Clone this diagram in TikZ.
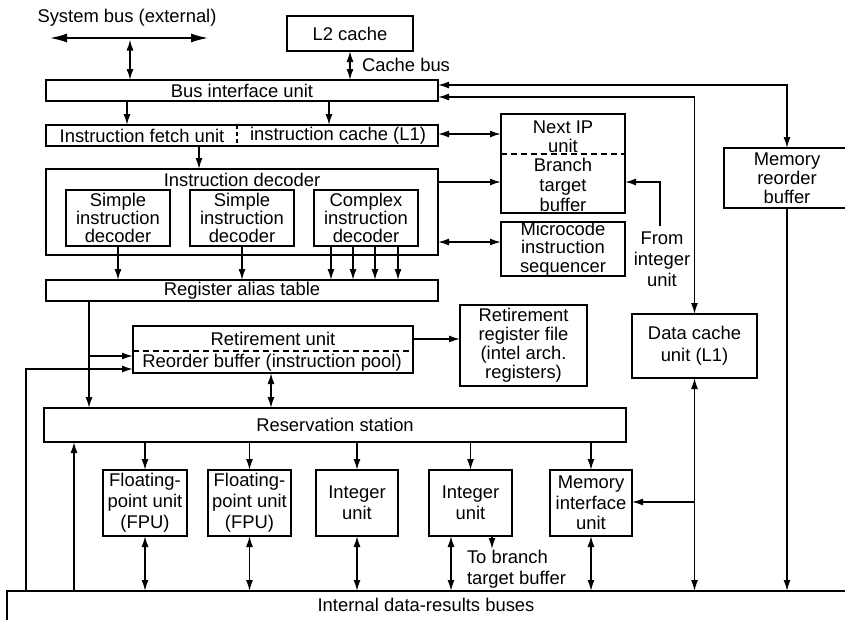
\documentclass[tikz,border=0pt]{standalone}
\usepackage{fontspec}
\setmainfont{Liberation Sans}
\usetikzlibrary{arrows.meta}
\begin{document}
\begin{tikzpicture}[x=1pt,y=-1pt,
  line width=1.5pt,
  every node/.style={font=\fontsize{18.4}{19.5}\selectfont, inner sep=0pt, outer sep=0pt},
  box/.style={draw, line width=1.5pt, align=center},
  lbl/.style={align=center},
  tip/.style={-{Latex[length=11pt,width=7pt]}},
  tips/.style={{Latex[length=11pt,width=7pt]}-{Latex[length=11pt,width=7pt]}},
  bigtips/.style={{Latex[length=17pt,width=9pt]}-{Latex[length=17pt,width=9pt]}},
  dsh/.style={dash pattern=on 6pt off 4pt, line width=1.2pt}
]
\useasboundingbox (0,0) rectangle (845,619);
\clip (0,0) rectangle (845,619);

% ---------- boxes ----------
\node[box, minimum width=126pt, minimum height=35pt] (l2) at (350,33.5) {L2 cache};
\node[box, minimum width=392pt, minimum height=21pt] (biu) at (242,90.5) {Bus interface unit};
\node[box, minimum width=392pt, minimum height=21pt] (ifu) at (242,135.5) {};
\node (ifut) at (142,135.5) {Instruction fetch unit};
\node (icl1) at (338,135.5) {instruction cache (L1)};
\draw[dsh, dash pattern=on 4pt off 3pt] (237,0 |- ifu.north) -- (237,0 |- ifu.south);

\node[box, minimum width=392pt, minimum height=86pt] (dec) at (242,212) {};
\node (dect) at (242,180) {Instruction decoder};
\node[box, minimum width=104pt, minimum height=56pt, font=\fontsize{18.4}{18.3}\selectfont] (sd1) at (118,218) {Simple\\instruction\\decoder};
\node[box, minimum width=104pt, minimum height=56pt, font=\fontsize{18.4}{18.3}\selectfont] (sd2) at (242,218) {Simple\\instruction\\decoder};
\node[box, minimum width=104pt, minimum height=56pt, font=\fontsize{18.4}{18.3}\selectfont] (cd) at (366,218) {Complex\\instruction\\decoder};

\node[box, minimum width=392pt, minimum height=21pt] (rat) at (242,290.5) {Register alias table};

\node[box, minimum width=124pt, minimum height=99pt] (nip) at (563,163.5) {};
\draw[dsh] (nip.west |- 0,154) -- (nip.east |- 0,154);
\node[lbl, font=\fontsize{18.4}{19}\selectfont] (nipt) at (563,136.5) {Next IP\\unit};
\node[lbl, font=\fontsize{18.4}{20}\selectfont] (btbt) at (563,185) {Branch\\target\\buffer};

\node[box, minimum width=124pt, minimum height=54pt, font=\fontsize{18.4}{18.5}\selectfont] (mis) at (563,249) {Microcode\\instruction\\sequencer};

\node[box, minimum width=126pt, minimum height=60pt, font=\fontsize{18.4}{19}\selectfont] (mrb) at (787,178) {Memory\\reorder\\buffer};

\node[box, minimum width=125pt, minimum height=64pt, font=\fontsize{18.4}{22}\selectfont] (dcu) at (694.5,346) {Data cache\\unit (L1)};

\node[box, minimum width=280pt, minimum height=47pt] (ret) at (273,349.5) {};
\draw[dsh] (ret.west |- 0,351) -- (ret.east |- 0,351);
\node (rett) at (273,338.5) {Retirement unit};
\node (robt) at (272,362.5) {Reorder buffer (instruction pool)};

\node[box, minimum width=127pt, minimum height=81pt, font=\fontsize{18.4}{19}\selectfont] (rrf) at (523.5,345.5) {Retirement\\register file\\(intel arch.\\registers)};

\node[box, minimum width=582pt, minimum height=34pt] (rs) at (335,425) {Reservation station};

\node[box, minimum width=84pt, minimum height=66pt, font=\fontsize{18.4}{21}\selectfont] (fpu1) at (145,503) {Floating-\\point unit\\(FPU)};
\node[box, minimum width=83pt, minimum height=66pt, font=\fontsize{18.4}{21}\selectfont] (fpu2) at (249.5,503) {Floating-\\point unit\\(FPU)};
\node[box, minimum width=82pt, minimum height=66pt, font=\fontsize{18.4}{21}\selectfont] (int1) at (357,503) {Integer\\unit};
\node[box, minimum width=83pt, minimum height=66pt, font=\fontsize{18.4}{21}\selectfont] (int2) at (470.5,503) {Integer\\unit};
\node[box, minimum width=82pt, minimum height=66pt, font=\fontsize{18.4}{20.5}\selectfont] (miu) at (591,503) {Memory\\interface\\unit};

\node[draw, line width=1.5pt, minimum width=860pt, minimum height=60pt, anchor=north west] (bus) at (7,591) {};
\node (bust) at (426,605) {Internal data-results buses};

% ---------- labels ----------
\node (sbt) at (127,18) {System bus (external)};
\node[anchor=west] (cbt) at (362,65) {Cache bus};
\node[lbl, font=\fontsize{18.4}{21}\selectfont] (fiut) at (662,259) {From\\integer\\unit};
\node[anchor=west, align=left, font=\fontsize{18.4}{21}\selectfont] (tbt) at (467,569) {To branch\\target buffer};

% ---------- connectors ----------
\coordinate (sbl) at (50,38);
\coordinate (sbr) at (208,38);
\coordinate (sbj) at (130,39.5);
\draw[bigtips] (sbl) -- (sbr);
\draw[tips] (sbj) -- (sbj |- biu.north);
\draw[tips] (l2.south) -- (l2.south |- biu.north);

\draw[tip] (127,0 |- biu.south) -- (127,0 |- ifu.north);
\draw[tip] (329,0 |- biu.south) -- (329,0 |- ifu.north);
\draw[tip] (199,0 |- ifu.south) -- (199,0 |- dec.north);

\draw[tips] (ifu.east |- 0,134) -- (nip.west |- 0,134);
\draw[tip] (dec.east |- 0,182) -- (nip.west |- 0,182);
\draw[tips] (dec.east |- 0,242) -- (mis.west |- 0,242);
\coordinate (fiu) at (660,226);
\draw[tip] (fiu) |- (nip.east |- 0,182);

\draw[tips] (biu.east |- 0,85) -| (mrb.north);
\draw[tips] (biu.east |- 0,97) -| (dcu.north);

\draw[tip] (sd1.south) -- (sd1.south |- rat.north);
\draw[tip] (sd2.south) -- (sd2.south |- rat.north);
\foreach \xx in {331,353,375,398} {
  \draw[tip] (\xx,0 |- cd.south) -- (\xx,0 |- rat.north);
}

\coordinate (rj) at (89,356);
\draw[tip] (89,0 |- rat.south) -- (89,0 |- rs.north);
\draw[tip] (rj) -- (ret.west |- rj);
\coordinate (lj) at (26,369);
\draw[tip] (lj |- bus.north) -- (lj) -- (ret.west |- lj);
\draw[tips] (271,0 |- ret.south) -- (271,0 |- rs.north);
\draw[tip] (ret.east |- 0,339) -- (rrf.west |- 0,339);
\draw[tip] (74,0 |- bus.north) -- (74,0 |- rs.south);

\foreach \nn in {fpu1,fpu2,int1,int2,miu} {
  \draw[tip] (\nn.north |- rs.south) -- (\nn.north);
}
\foreach \nn in {fpu1,fpu2,int1,miu} {
  \draw[tips] (\nn.south) -- (\nn.south |- bus.north);
}
\draw[tips] (451,0 |- int2.south) -- (451,0 |- bus.north);
\draw[tip] (492,0 |- int2.south) -- (492,549);

\draw[tips] (dcu.south) -- (dcu.south |- bus.north);
\draw[tip] (dcu.south |- 0,502) -- (miu.east |- 0,502);
\draw[tip] (mrb.south) -- (mrb.south |- bus.north);
\end{tikzpicture}
\end{document}
